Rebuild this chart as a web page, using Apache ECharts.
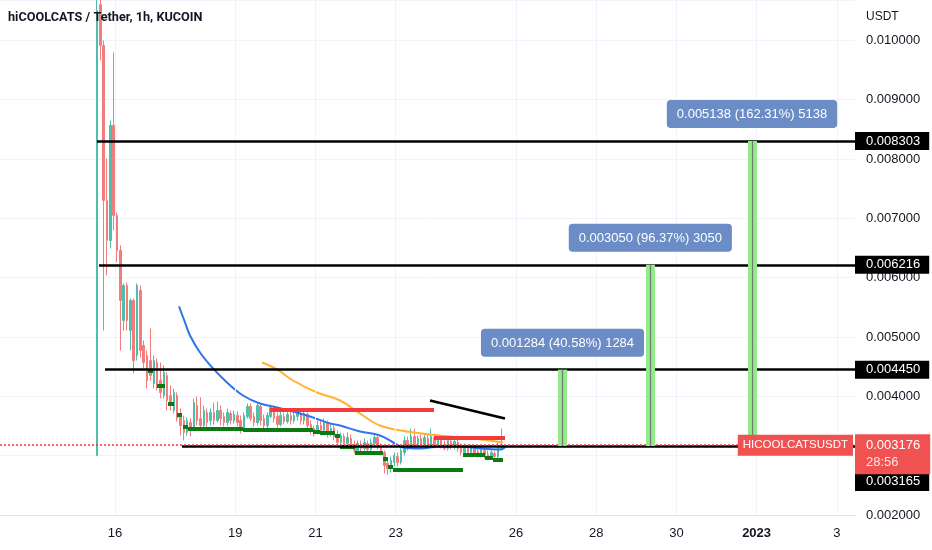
<!DOCTYPE html>
<html><head><meta charset="utf-8">
<script src="https://cdn.jsdelivr.net/npm/echarts@6/dist/echarts.min.js"></script>
<style>html,body{margin:0;padding:0;background:#fff}#c{width:932px;height:550px}</style>
</head><body><div id="c"></div>
<script>
// x axis unit: days since 16 Dec 2022 00:00
const xMin = -2.868, xMax = 18.454;
const tickDays = [0, 3, 5, 7, 10, 12, 14, 16, 18];
const tickLabels = ['16', '19', '21', '23', '26', '28', '30', '2023', '3'];

// 2-hour candles starting 15 Dec ~13:00
const candleStartDay = -0.45;
const candleStepDays = 2 / 24;
const candleOpen = [0.003003,0.010600,0.009915,0.007302,0.006628,0.008567,0.007049,0.006459,0.005279,0.005869,
0.005110,0.005616,0.004689,0.005785,0.004857,0.004689,0.004604,0.004217,0.004571,0.004267,
0.004014,0.004352,0.004014,0.003761,0.004014,0.003677,0.003593,0.003390,0.003559,0.003458,
0.003846,0.003627,0.003508,0.003728,0.003593,0.003728,0.003593,0.003761,0.003660,0.003559,
0.003711,0.003593,0.003677,0.003593,0.003458,0.003660,0.003829,0.003660,0.003559,0.003829,
0.003627,0.003508,0.003660,0.003812,0.003660,0.003525,0.003660,0.003576,0.003677,0.003593,
0.003660,0.003711,0.003593,0.003694,0.003525,0.003458,0.003390,0.003508,0.003424,0.003542,
0.003374,0.003458,0.003357,0.003222,0.003323,0.003205,0.003289,0.003188,0.003087,0.003188,
0.003121,0.003205,0.003104,0.003205,0.003306,0.003154,0.003053,0.002868,0.002784,0.002885,
0.002986,0.002885,0.003053,0.003256,0.003154,0.003323,0.003188,0.003289,0.003188,0.003289,
0.003171,0.003306,0.003188,0.003272,0.003188,0.003121,0.003239,0.003154,0.003222,0.003154,
0.003053,0.003138,0.003053,0.003138,0.003070,0.003003,0.003087,0.003020,0.002969,0.003036,
0.002986,0.003121];
const candleClose = [0.010500,0.009915,0.007302,0.006628,0.008567,0.007049,0.006459,0.005616,0.005869,0.005279,
0.005616,0.004604,0.005869,0.004773,0.004571,0.004267,0.004352,0.004604,0.004183,0.004065,
0.004402,0.003930,0.003846,0.004065,0.003627,0.003508,0.003390,0.003593,0.003424,0.003896,
0.003593,0.003508,0.003761,0.003559,0.003728,0.003593,0.003761,0.003627,0.003559,0.003728,
0.003593,0.003694,0.003559,0.003458,0.003677,0.003829,0.003627,0.003559,0.003846,0.003593,
0.003508,0.003677,0.003812,0.003627,0.003525,0.003677,0.003576,0.003694,0.003593,0.003677,
0.003728,0.003593,0.003711,0.003508,0.003424,0.003390,0.003508,0.003424,0.003559,0.003374,
0.003458,0.003323,0.003222,0.003340,0.003205,0.003306,0.003154,0.003087,0.003205,0.003121,
0.003222,0.003104,0.003222,0.003306,0.003154,0.003053,0.002834,0.002784,0.002918,0.003003,
0.002885,0.003087,0.003256,0.003154,0.003323,0.003188,0.003289,0.003188,0.003306,0.003171,
0.003323,0.003188,0.003289,0.003154,0.003121,0.003256,0.003154,0.003239,0.003121,0.003053,
0.003154,0.003053,0.003138,0.003036,0.003003,0.003104,0.003003,0.002969,0.003053,0.002986,
0.003154,0.003176];
const candleLow = [0.003003,0.009662,0.005110,0.006038,0.006493,0.006796,0.006257,0.004773,0.005110,0.005110,
0.004773,0.004385,0.004604,0.004655,0.004470,0.004132,0.004267,0.004132,0.004099,0.003964,
0.003964,0.003761,0.003761,0.003711,0.003576,0.003340,0.003256,0.003340,0.003323,0.003424,
0.003508,0.003424,0.003458,0.003492,0.003508,0.003525,0.003559,0.003508,0.003492,0.003508,
0.003525,0.003542,0.003492,0.003374,0.003424,0.003627,0.003576,0.003492,0.003508,0.003508,
0.003458,0.003458,0.003627,0.003559,0.003475,0.003492,0.003525,0.003542,0.003525,0.003542,
0.003593,0.003525,0.003525,0.003424,0.003357,0.003323,0.003357,0.003357,0.003390,0.003306,
0.003323,0.003256,0.003154,0.003171,0.003138,0.003154,0.003104,0.003036,0.003053,0.003070,
0.003087,0.003053,0.003070,0.003154,0.003104,0.003003,0.002699,0.002682,0.002716,0.002817,
0.002817,0.002851,0.003003,0.003087,0.003121,0.003138,0.003138,0.003138,0.003154,0.003121,
0.003138,0.003121,0.003154,0.003121,0.003087,0.003087,0.003104,0.003104,0.003070,0.003003,
0.003020,0.003003,0.003020,0.002986,0.002969,0.002969,0.002952,0.002935,0.002935,0.002952,
0.002952,0.003087];
const candleHigh = [0.012500,0.011500,0.010000,0.008010,0.008651,0.009797,0.007100,0.006543,0.005903,0.005920,
0.005650,0.005650,0.005903,0.005869,0.004942,0.004773,0.005144,0.004689,0.004638,0.004571,
0.004520,0.004402,0.004183,0.004132,0.004065,0.003795,0.003677,0.003643,0.003627,0.003964,
0.003997,0.003981,0.003846,0.003795,0.003795,0.003896,0.003913,0.003846,0.003728,0.003795,
0.003761,0.003761,0.003745,0.003677,0.003728,0.003879,0.003879,0.003728,0.003879,0.003863,
0.003694,0.003728,0.003863,0.003846,0.003728,0.003745,0.003728,0.003761,0.003745,0.003728,
0.003778,0.003761,0.003745,0.003728,0.003593,0.003508,0.003593,0.003593,0.003627,0.003593,
0.003525,0.003508,0.003424,0.003390,0.003374,0.003390,0.003357,0.003256,0.003256,0.003256,
0.003289,0.003256,0.003289,0.003374,0.003340,0.003205,0.003087,0.002952,0.002986,0.003053,
0.003053,0.003154,0.003323,0.003323,0.003458,0.003458,0.003340,0.003357,0.003374,0.003357,
0.003458,0.003374,0.003357,0.003340,0.003256,0.003306,0.003289,0.003289,0.003272,0.003205,
0.003205,0.003188,0.003188,0.003188,0.003121,0.003154,0.003138,0.003087,0.003104,0.003087,
0.003239,0.003458];

// moving averages
const maFastDay = [1.596,1.746,1.870,2.120,2.444,2.793,3.192,3.616,4.040,4.613,4.938,5.362,5.611,6.110,6.608,6.983,7.182,7.606,8.105,8.603,9.102,9.601,9.726];
const maFastValue = [0.005515,0.005245,0.005026,0.004739,0.004470,0.004233,0.004014,0.003879,0.003812,0.003711,0.003643,0.003542,0.003508,0.003407,0.003340,0.003205,0.003138,0.003121,0.003154,0.003154,0.003121,0.003104,0.003138];
const maSlowDay = [3.666,4.040,4.439,5.037,5.611,6.110,6.608,7.282,8.105,8.928,9.676];
const maSlowValue = [0.004571,0.004453,0.004267,0.004065,0.003930,0.003711,0.003508,0.003407,0.003340,0.003289,0.003222];

// green support steps
const supStartDay = [0.823,1.047,1.322,1.546,1.696,1.820,3.192,4.938,5.112,5.486,5.611,5.985,6.683,6.808,6.933,8.678,9.227,9.426];
const supEndDay   = [0.948,1.247,1.471,1.671,1.820,3.192,4.938,5.112,5.486,5.611,5.985,6.683,6.808,6.933,8.678,9.227,9.426,9.676];
const supPrice    = [0.004436,0.004183,0.003879,0.003694,0.003492,0.003458,0.003441,0.003407,0.003390,0.003340,0.003154,0.003053,0.002952,0.002817,0.002767,0.003020,0.002969,0.002935];

// red resistance lines, black trend line
const redStartDay = [3.865, 7.955];
const redEndDay = [7.955, 9.726];
const redPrice = [0.003778, 0.003306];
const trendDay = [7.855, 9.726];
const trendPrice = [0.003930, 0.003627];

// horizontal price levels
const levelPrice = [0.008303, 0.006216, 0.004450, 0.003165];
const levelStartDay = [-0.449, -0.399, -0.249, 1.67];
const currentPrice = 0.003176;
const countdown = '28:56';
const symbolName = 'HICOOLCATSUSDT';

// price-range arrows
const arrowDay = [11.16, 13.35, 15.885];
const arrowBase = 0.003165;
const arrowTarget = [0.004450, 0.006216, 0.008303];
const arrowText = ['0.001284 (40.58%) 1284', '0.003050 (96.37%) 3050', '0.005138 (162.31%) 5138'];

const FONT = '"Liberation Sans", Arial, sans-serif';
const TXT = '#131722';

const candleData = candleOpen.map((o, i) => [candleStartDay + i * candleStepDays, o, candleClose[i], candleLow[i], candleHigh[i]]);

const seg = (x1, x2, y1, y2) => [{ coord: [x1, y1] }, { coord: [x2, y2] }];
const noLabel = { show: false };

const rightBox = (price, bg, text, offsetY) => ({
  coord: [xMax, price],
  label: {
    show: true, position: 'right', distance: 0, offset: [0, offsetY],
    backgroundColor: bg, color: '#fff', fontSize: 13, fontFamily: FONT,
    padding: [2, 9, 1, 11], lineHeight: 15, formatter: text
  }
});

const rightLabels = levelPrice.map((p, i) => rightBox(p, '#000', p.toFixed(6), i === 3 ? 36 : 0));
rightLabels.push({
  coord: [xMax, currentPrice],
  label: {
    show: true, position: 'right', distance: 0, offset: [0, 9],
    backgroundColor: '#f05252', color: '#fff', fontSize: 13, fontFamily: FONT,
    padding: [3, 10, 3, 11], lineHeight: 17,
    formatter: currentPrice.toFixed(6) + '\n{t|' + countdown + '}',
    rich: { t: { color: '#fde3e3', fontSize: 13, fontFamily: FONT, lineHeight: 17 } }
  }
});
rightLabels.push({
  coord: [xMax, currentPrice],
  label: {
    show: true, position: 'left', distance: 2,
    backgroundColor: '#f05252', color: '#fff', fontSize: 11.5, fontFamily: FONT,
    padding: [5, 5, 4, 5], formatter: symbolName
  }
});

const chart = echarts.init(document.getElementById('c'));
chart.setOption({
  animation: false,
  backgroundColor: '#fff',
  title: [
    { text: 'hiCOOLCATS / Tether, 1h, KUCOIN', left: 8, top: 11, padding: 0,
      textStyle: { fontSize: 12.7, fontWeight: 'bold', color: TXT, fontFamily: 'Roboto, "Liberation Sans", sans-serif' } },
    { text: 'USDT', left: 866, top: 11, padding: 0,
      textStyle: { fontSize: 12, fontWeight: 'normal', color: TXT, fontFamily: FONT } }
  ],
  grid: { left: 0, right: 77, top: 0, bottom: 35, containLabel: false },
  xAxis: {
    type: 'value', min: xMin, max: xMax,
    axisLine: { show: true, onZero: false, lineStyle: { color: '#e0e3eb' } },
    axisTick: { show: false },
    splitLine: { show: false },
    axisLabel: {
      customValues: tickDays, color: TXT, fontSize: 13, fontFamily: FONT, margin: 12,
      formatter: v => {
        const k = tickDays.indexOf(v);
        const s = k >= 0 ? tickLabels[k] : '';
        return s === '2023' ? '{b|2023}' : s;
      },
      rich: { b: { fontWeight: 'bold', fontSize: 13, color: TXT, fontFamily: FONT } }
    }
  },
  yAxis: {
    type: 'value', position: 'right', min: 0.002, max: 0.01068, interval: 0.001,
    axisLine: { show: true, lineStyle: { color: '#e0e3eb' } },
    axisTick: { show: false },
    splitLine: { show: true, lineStyle: { color: '#f0f3fa' } },
    axisLabel: { formatter: v => v.toFixed(6), showMaxLabel: false, color: TXT, fontSize: 13, fontFamily: FONT, margin: 11 }
  },
  series: [
    { type: 'line', data: [], silent: true,
      markLine: { silent: true, symbol: 'none', label: noLabel, lineStyle: { color: '#f0f3fa', width: 1, type: 'solid' },
        data: tickDays.map(d => ({ xAxis: d })) } },
    { type: 'candlestick', name: symbolName, data: candleData, encode: { x: 0, y: [1, 2, 3, 4] },
      barWidth: 2, z: 2,
      itemStyle: { color: '#4fbfa9', color0: '#f27d7d', borderColor: '#4fbfa9', borderColor0: '#f27d7d', borderWidth: 1 } },
    { type: 'line', data: maFastDay.map((d, i) => [d, maFastValue[i]]), smooth: 0.4, showSymbol: false, z: 3,
      lineStyle: { color: '#2f74e8', width: 2 } },
    { type: 'line', data: maSlowDay.map((d, i) => [d, maSlowValue[i]]), smooth: 0.4, showSymbol: false, z: 3,
      lineStyle: { color: '#ffb330', width: 2 } },
    { type: 'line', data: [], z: 4,
      markLine: { silent: true, symbol: 'none', label: noLabel, lineStyle: { color: '#0b7a12', width: 4, type: 'solid' },
        data: supStartDay.map((s, i) => seg(s, supEndDay[i], supPrice[i], supPrice[i])) } },
    { type: 'line', data: [], z: 4,
      markLine: { silent: true, symbol: 'none', label: noLabel, lineStyle: { color: '#f23b3b', width: 4, type: 'solid' },
        data: redStartDay.map((s, i) => seg(s, redEndDay[i], redPrice[i], redPrice[i])) } },
    { type: 'line', data: [], z: 4,
      markLine: { silent: true, symbol: 'none', label: noLabel, lineStyle: { color: '#000', width: 2.5, type: 'solid' },
        data: [seg(trendDay[0], trendDay[1], trendPrice[0], trendPrice[1])]
          .concat(levelPrice.map((p, i) => seg(levelStartDay[i], xMax, p, p))) } },
    { type: 'line', data: [], z: 9,
      markLine: { silent: true, symbol: 'none', label: noLabel, lineStyle: { color: '#f23645', width: 1.5, type: [2, 2] },
        data: [seg(xMin, xMax, currentPrice, currentPrice)] } },
    { type: 'line', data: [], z: 5,
      markLine: { silent: true, symbol: 'none', label: noLabel, lineStyle: { color: '#92ec8c', width: 9, type: 'solid', opacity: 1 },
        data: arrowDay.map((d, i) => seg(d, d, arrowBase, arrowTarget[i])) } },
    { type: 'line', data: [], z: 6,
      markLine: { silent: true, symbol: ['none', 'arrow'], symbolSize: [0, 8], label: noLabel,
        lineStyle: { color: '#6f7a72', width: 1.2, type: 'solid' },
        data: arrowDay.map((d, i) => seg(d, d, arrowBase, arrowTarget[i])) } },
    { type: 'line', data: [], z: 7,
      markPoint: { silent: true, symbol: 'circle', symbolSize: 0,
        label: { show: true, position: 'top', distance: 13, backgroundColor: '#6b8cc5', borderRadius: 4,
          padding: [8, 10, 7, 10], color: '#fff', fontSize: 13, fontFamily: FONT,
          formatter: p => arrowText[p.dataIndex] },
        data: arrowDay.map((d, i) => ({ coord: [d, arrowTarget[i]] })) } },
    { type: 'line', data: [], z: 8,
      markPoint: { silent: true, symbol: 'circle', symbolSize: 0, data: rightLabels } }
  ]
});
</script>
</body></html>
